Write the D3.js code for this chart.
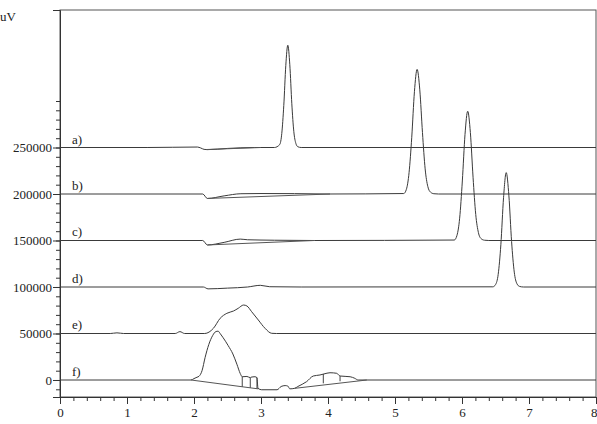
<!DOCTYPE html>
<html>
<head>
<meta charset="utf-8">
<script src="https://cdn.jsdelivr.net/npm/d3@7"></script>
<style>
  body { margin: 0; background: #fff; }
  text { font-family: "Liberation Serif", "DejaVu Serif", serif; fill: #222; }
</style>
</head>
<body>
<svg id="canvas" width="597" height="424"></svg>
<script>
// chromatogram traces, each shifted up by its own baseline
let traceNames = ['a)', 'b)', 'c)', 'd)', 'e)', 'f)'];
let baselines = [250000, 200000, 150000, 100000, 50000, 0];

let timeA = [0, 1.3, 2.05, 2.1, 2.15, 2.2, 2.5, 2.9, 3.2, 3.28, 3.31, 3.34, 3.37, 3.40, 3.43, 3.46, 3.49, 3.52, 3.55, 3.6, 8];
let sigA  = [0, 0, 500, -500, -2000, -2300, -1000, 0, 0, 3200, 15000, 45000, 88000, 110000, 89000, 47000, 17000, 4500, 800, 0, 0];

let timeB = [0, 2.13, 2.2, 2.45, 2.7, 3.0, 3.5, 4.0, 5.13, 5.17, 5.21, 5.25, 5.29, 5.33, 5.37, 5.41, 5.45, 5.49, 5.53, 5.58, 5.65, 8];
let sigB  = [0, 0, -4800, -2000, 300, 500, 400, 0, 500, 5000, 23000, 61000, 110000, 134000, 112000, 66000, 27000, 8000, 2000, 300, 0, 0];

let timeC = [0, 2.13, 2.2, 2.45, 2.69, 2.8, 3.2, 3.8, 5.885, 5.925, 5.965, 6.005, 6.045, 6.085, 6.125, 6.165, 6.205, 6.245, 6.285, 6.335, 6.40, 8];
let sigC  = [0, 0, -4800, -2000, 1500, 800, 300, 0, 500, 5500, 24000, 64000, 114000, 139000, 116000, 68000, 28000, 8500, 2000, 300, 0, 0];

let timeD = [0, 2.14, 2.21, 2.5, 2.8, 2.99, 3.13, 3.6, 6.46, 6.50, 6.54, 6.58, 6.62, 6.66, 6.70, 6.74, 6.78, 6.82, 6.86, 6.92, 8];
let sigD  = [0, 0, -2000, -1200, 0, 1800, 300, 0, 200, 2500, 13500, 45500, 96000, 123000, 98000, 49000, 16000, 3500, 600, 0, 0];

let timeE = [0, 0.75, 0.85, 0.95, 1.72, 1.79, 1.86, 2.16, 2.29, 2.39, 2.49, 2.59, 2.66, 2.74, 2.79, 2.86, 2.96, 3.06, 3.16, 3.23, 8];
let sigE  = [0, 0, 700, 0, 0, 2000, 0, 0, 5600, 16300, 21700, 24200, 27100, 30600, 29600, 23500, 14500, 5600, 200, 0, 0];

let timeF = [0, 1.955, 2.0, 2.045, 2.075, 2.12, 2.165, 2.22, 2.28, 2.325, 2.36, 2.39, 2.43, 2.51, 2.58, 2.64, 2.69, 2.72, 2.79, 2.84, 2.85, 2.91, 2.94, 2.955, 3.01, 3.24, 3.30, 3.36, 3.40, 3.43, 3.50, 3.55, 3.68, 3.78, 3.88, 3.94, 4.03, 4.13, 4.18, 4.33, 4.40, 4.45, 4.58, 8];
let sigF  = [0, 0, 1500, 3000, 4000, 10000, 24000, 38000, 48000, 52000, 52500, 50000, 46000, 37000, 28000, 17000, 7000, 3500, 3800, 2500, 3000, 3500, 2500, -9000, -10500, -10500, -7000, -6000, -6500, -9500, -9000, -7000, -1800, 4300, 5400, 6500, 7800, 7200, 4300, 3500, 1800, 0, 0, 0];

// integration baselines (trace index, [t0, t1], [v0, v1])
let intTrace = [0, 1, 2, 5, 5];
let intTime  = [[2.18, 3.0], [2.2, 4.03], [2.2, 3.8], [1.955, 2.955], [3.50, 4.58]];
let intSig   = [[-2200, 0], [-4800, 0], [-4800, 0], [0, -9500], [-9000, 0]];

// peak cut lines on trace f
let dropTime   = [2.72, 2.84, 2.94, 3.93, 4.18];
let dropTop    = [3500, 2500, 2500, 6500, 4300];
let dropBottom = [-7270, -8410, -9360, -3580, -1380];

let xMajor = [0, 1, 2, 3, 4, 5, 6, 7, 8];
let yMajor = [0, 50000, 100000, 150000, 200000, 250000];

let traces = [
    {t: timeA, v: sigA}, {t: timeB, v: sigB}, {t: timeC, v: sigC},
    {t: timeD, v: sigD}, {t: timeE, v: sigE}, {t: timeF, v: sigF}
];

let canvas = d3.select('#canvas');

let plotLeft = 60, plotRight = 596, plotTop = 10, plotBottom = 397;

let xScale = d3.scaleLinear().domain([0, 8]).range([plotLeft, plotRight]);
let yScale = d3.scaleLinear().domain([-18280, 397850]).range([plotBottom, plotTop]);

let xMinor = d3.range(0, 8.001, 0.2);
let yMinor = d3.range(-10000, 300001, 10000);

let drawAxes = () => {
    // frame
    canvas.append('rect')
        .attr('x', plotLeft).attr('y', plotTop)
        .attr('width', plotRight - plotLeft).attr('height', plotBottom - plotTop)
        .attr('fill', 'none').attr('stroke', '#555').attr('stroke-width', 1);

    canvas.append('g')
        .attr('transform', 'translate(0,' + plotBottom + ')')
        .call(d3.axisBottom(xScale).tickValues(xMinor).tickSize(4).tickFormat(''))
        .call(g => g.select('.domain').remove());

    canvas.append('g')
        .attr('transform', 'translate(0,' + plotBottom + ')')
        .call(d3.axisBottom(xScale).tickValues(xMajor).tickSize(7).tickPadding(4).tickFormat(d3.format('d')))
        .call(g => g.select('.domain').attr('stroke', '#333'))
        .selectAll('text').style('font-size', '13px').attr('fill', '#222')
        .style('font-family', '"Liberation Serif", serif')
        // last label sits against the right edge, as in the source
        .attr('text-anchor', d => d === 8 ? 'end' : 'middle')
        .attr('x', d => d === 8 ? 1 : 0);

    canvas.append('g')
        .attr('transform', 'translate(' + plotLeft + ',0)')
        .call(d3.axisLeft(yScale).tickValues(yMinor).tickSize(4).tickFormat(''))
        .call(g => g.select('.domain').remove());

    canvas.append('g')
        .attr('transform', 'translate(' + plotLeft + ',0)')
        .call(d3.axisLeft(yScale).tickValues(yMajor).tickSize(7).tickPadding(1).tickFormat(d3.format('d')))
        .call(g => g.select('.domain').attr('stroke', '#333'))
        .selectAll('text').style('font-size', '13px').attr('fill', '#222')
        .style('font-family', '"Liberation Serif", serif');

    canvas.selectAll('.tick line').attr('stroke', '#333');

    canvas.append('text')
        .attr('x', 0).attr('y', 21)
        .style('font-size', '13px')
        .text('uV');
}

let drawTraces = () => {
    let line = d3.line()
        .x(d => xScale(d[0]))
        .y(d => yScale(d[1]))
        .curve(d3.curveMonotoneX);

    canvas.selectAll('path.trace')
        .data(traces)
        .enter()
        .append('path')
        .attr('class', 'trace')
        .attr('d', (tr, i) => line(tr.t.map((t, k) => [t, tr.v[k] + baselines[i]])))
        .attr('fill', 'none')
        .attr('stroke', '#3a3a3a')
        .attr('stroke-width', 1);

    canvas.selectAll('line.integration')
        .data(intTrace)
        .enter()
        .append('line')
        .attr('class', 'integration')
        .attr('x1', (d, i) => xScale(intTime[i][0]))
        .attr('x2', (d, i) => xScale(intTime[i][1]))
        .attr('y1', (d, i) => yScale(intSig[i][0] + baselines[d]))
        .attr('y2', (d, i) => yScale(intSig[i][1] + baselines[d]))
        .attr('stroke', '#555')
        .attr('stroke-width', 1);

    canvas.selectAll('line.drop')
        .data(dropTime)
        .enter()
        .append('line')
        .attr('class', 'drop')
        .attr('x1', d => xScale(d)).attr('x2', d => xScale(d))
        .attr('y1', (d, i) => yScale(dropTop[i] + baselines[5]))
        .attr('y2', (d, i) => yScale(dropBottom[i] + baselines[5]))
        .attr('stroke', '#444')
        .attr('stroke-width', 1);

    canvas.selectAll('text.name')
        .data(traceNames)
        .enter()
        .append('text')
        .attr('class', 'name')
        .attr('x', 72)
        .attr('y', (d, i) => yScale(baselines[i]) - 4)
        .style('font-size', '13px')
        .text(d => d);
}

drawAxes();
drawTraces();
</script>
</body>
</html>
